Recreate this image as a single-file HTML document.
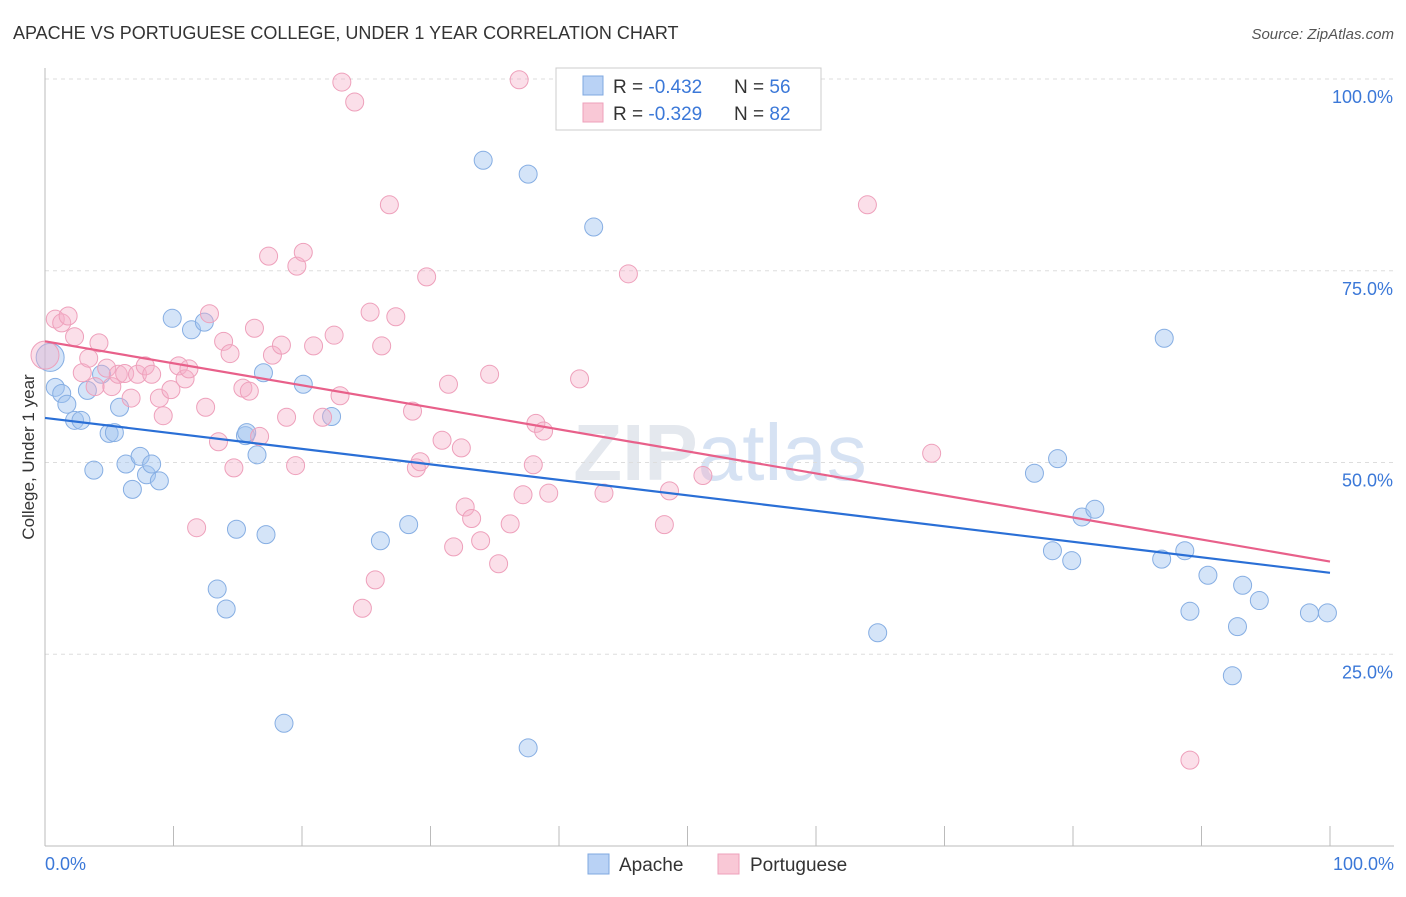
<!DOCTYPE html>
<html><head><meta charset="utf-8">
<style>
body{margin:0;background:#fff;font-family:"Liberation Sans",sans-serif;}
svg text{font-family:"Liberation Sans",sans-serif;}
</style></head><body>
<svg id="chart" width="1406" height="892">
<text x="13" y="39" font-size="18" fill="#333">APACHE VS PORTUGUESE COLLEGE, UNDER 1 YEAR CORRELATION CHART</text>
<text x="1394" y="39" font-size="15" fill="#555" text-anchor="end" font-style="italic">Source: ZipAtlas.com</text>
<text x="720" y="480" font-size="80" fill="#e4e8ee" text-anchor="middle" font-weight="bold">ZIP<tspan fill="#d6e2f3" font-weight="normal">atlas</tspan></text>
<g id="grid"></g>
<g id="axes"></g>
<g id="pts"></g>
<g id="trend"></g>
<text x="34" y="457" font-size="17" fill="#333" text-anchor="middle" transform="rotate(-90 34 457)">College, Under 1 year</text>
<text x="45" y="870" font-size="18" fill="#3b78d8">0.0%</text>
<text x="1394" y="870" font-size="18" fill="#3b78d8" text-anchor="end">100.0%</text>
<g>
<rect x="556" y="68" width="265" height="62" fill="#fff" stroke="#ccc"/>
<rect x="583" y="76" width="20" height="19" fill="#b9d2f5" stroke="#7fa8e0"/>
<rect x="583" y="103" width="20" height="19" fill="#f9c8d6" stroke="#eea0bb"/>
<text x="613" y="93" font-size="19" fill="#333">R = <tspan fill="#3b78d8">-0.432</tspan><tspan x="734">N = </tspan><tspan fill="#3b78d8">56</tspan></text>
<text x="613" y="120" font-size="19" fill="#333">R = <tspan fill="#3b78d8">-0.329</tspan><tspan x="734">N = </tspan><tspan fill="#3b78d8">82</tspan></text>
</g>
<g>
<rect x="588" y="854" width="21" height="20" fill="#b9d2f5" stroke="#7fa8e0"/>
<text x="619" y="871" font-size="19" fill="#333">Apache</text>
<rect x="718" y="854" width="21" height="20" fill="#f9c8d6" stroke="#eea0bb"/>
<text x="750" y="871" font-size="19" fill="#333">Portuguese</text>
</g>
</svg>
<script>
const yTicks=[25,50,75,100];
const yTickLabels=["25.0%","50.0%","75.0%","100.0%"];
const apacheX=[0.8,1.3,1.7,2.3,2.8,3.3,3.8,4.4,4.99,5.4,5.8,6.3,6.8,7.4,7.9,8.3,8.9,9.9,11.4,12.4,13.4,14.1,14.9,15.6,15.7,16.5,17.0,17.2,18.6,20.1,22.3,26.1,28.3,34.1,37.6,37.6,42.7,64.8,77.0,78.4,78.8,79.9,80.7,81.7,87.1,86.9,88.7,89.1,90.5,92.8,93.2,94.5,92.4,98.4,99.8,0.4];
const apacheY=[59.8,59.0,57.6,55.5,55.5,59.4,49.0,61.5,53.8,53.9,57.2,49.8,46.5,50.8,48.4,49.8,47.6,68.8,67.3,68.3,33.5,30.9,41.3,53.5,53.9,51.0,61.7,40.6,16.0,60.2,56.0,39.8,41.9,89.4,87.6,12.8,80.7,27.8,48.6,38.5,50.5,37.2,42.9,43.9,66.2,37.4,38.5,30.6,35.3,28.6,34.0,32.0,22.2,30.4,30.4,63.7];
const portX=[0.0,0.8,1.3,1.8,2.3,2.9,3.4,3.9,4.2,4.8,5.2,5.7,6.2,6.7,7.2,7.8,8.3,8.9,9.2,9.8,10.4,10.9,11.2,11.8,12.5,12.8,13.5,13.9,14.4,14.7,15.4,15.9,16.3,16.7,17.4,17.7,18.4,18.8,19.5,19.6,20.1,20.9,21.6,22.5,22.96,23.1,24.1,24.7,25.3,25.7,26.2,26.8,27.3,28.6,28.9,29.2,29.7,30.9,31.4,31.8,32.4,32.7,33.2,33.9,34.6,35.3,36.2,36.9,37.2,38.0,38.2,38.8,39.2,41.6,43.5,45.4,48.2,48.6,51.2,64.0,69.0,89.1];
const portY=[64.0,68.7,68.2,69.1,66.4,61.7,63.6,59.9,65.6,62.3,59.9,61.5,61.6,58.4,61.5,62.6,61.5,58.4,56.1,59.5,62.6,60.9,62.2,41.5,57.2,69.4,52.7,65.8,64.2,49.3,59.7,59.3,67.5,53.4,76.9,64.0,65.3,55.9,49.6,75.6,77.4,65.2,55.9,66.6,58.7,99.6,97.0,31.0,69.6,34.7,65.2,83.6,69.0,56.7,49.3,50.1,74.2,52.9,60.2,39.0,51.9,44.2,42.7,39.8,61.5,36.8,42.0,99.9,45.8,49.7,55.1,54.1,46.0,60.9,46.0,74.6,41.9,46.3,48.3,83.6,51.2,11.2];
const X0=45,X1=1330,Y0=846,Y1=79;
const xs=v=>X0+(X1-X0)*v/100, ys=v=>Y0-(Y0-Y1)*v/100;
const NS="http://www.w3.org/2000/svg";
function mk(parent,tag,attrs){const e=document.createElementNS(NS,tag);for(const k in attrs)e.setAttribute(k,attrs[k]);document.getElementById(parent).appendChild(e);return e;}
yTicks.forEach((t,i)=>{
 const l=mk('grid','line',{x1:45,x2:1394,y1:ys(t),y2:ys(t),stroke:'#ddd','stroke-dasharray':'4,4'});
 
 
 const tx=mk('grid','text',{x:1393,y:ys(t)+24,'font-size':18,fill:'#3b78d8','text-anchor':'end'});
 tx.textContent=yTickLabels[i];
 
 
});
const ya=mk('axes','line',{x1:45,x2:45,y1:68,y2:846,stroke:'#bbb'});


const xa=mk('axes','line',{x1:45,x2:1394,y1:846,y2:846,stroke:'#bbb'});


for(let i=0;i<=10;i++){const t=mk('axes','line',{x1:xs(i*10),x2:xs(i*10),y1:826,y2:846,stroke:'#bbb'});
 
 }
function pts(xa,ya,fill,stroke,name){xa.forEach((x,i)=>{
 const r=(x===0||(name==='apache-point'&&i===xa.length-1))?14:9;
 const c=mk('pts','circle',{cx:xs(x),cy:ys(ya[i]),r:r,fill:fill,stroke:stroke,'stroke-width':1});
 
 });}
pts(apacheX,apacheY,'rgba(160,195,240,0.45)','#86aee3','apache-point');
pts(portX,portY,'rgba(246,175,200,0.4)','#eea0bb','portuguese-point');
function fit(xa,ya){const n=xa.length;let mx=0,my=0;xa.forEach((x,i)=>{mx+=x;my+=ya[i];});mx/=n;my/=n;let sxy=0,sxx=0;xa.forEach((x,i)=>{sxy+=(x-mx)*(ya[i]-my);sxx+=(x-mx)**2;});const b=sxy/sxx;return [my-b*mx,b];}
[[apacheX,apacheY,'#2a6fd6','apache-trendline'],[portX,portY,'#e8608a','portuguese-trendline']].forEach(s=>{
 const [a,b]=fit(s[0],s[1]);
 const l=mk('trend','line',{x1:xs(0),y1:ys(a),x2:xs(100),y2:ys(a+b*100),stroke:s[2],'stroke-width':2.2});
 
 
});
</script>
</body></html>
